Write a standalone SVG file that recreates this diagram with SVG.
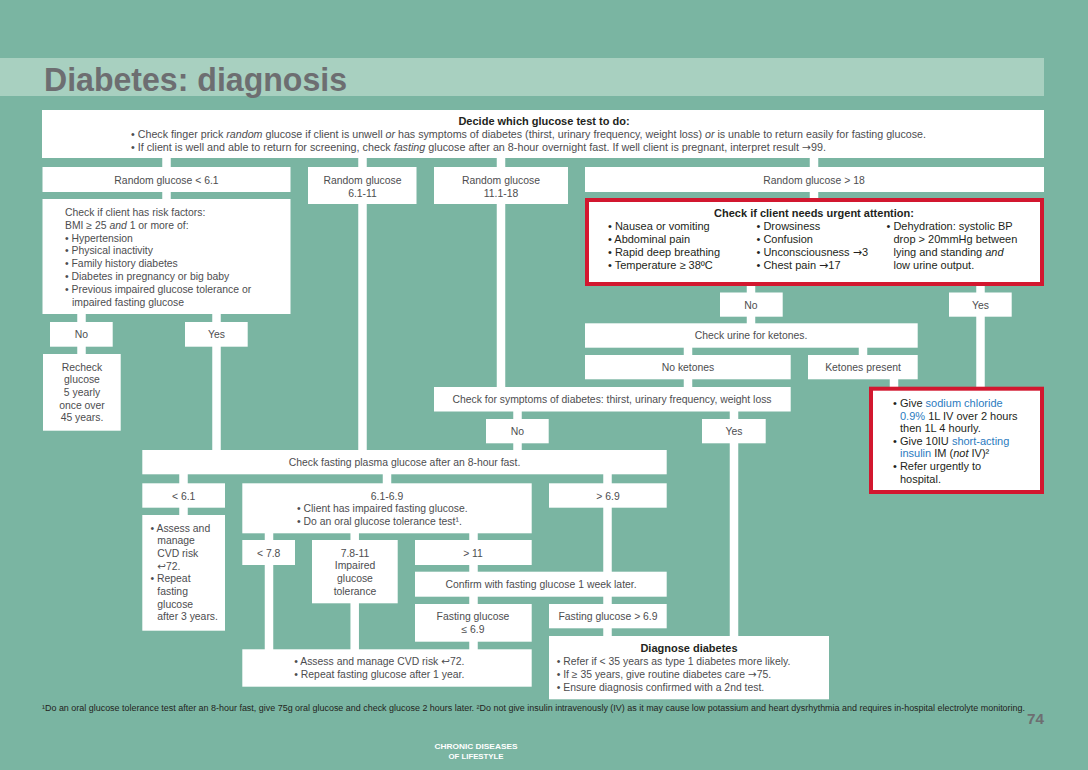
<svg xmlns="http://www.w3.org/2000/svg" width="1088" height="770" viewBox="0 0 1088 770">
<style>
.box{fill:#ffffff}
.red{fill:#ffffff;stroke:#d2172f;stroke-width:4}
.c line{stroke:#ffffff;stroke-width:8.5}
text{font-family:"Liberation Sans",Arial,sans-serif;font-size:10.4px;fill:#4d4d4f}
.m{text-anchor:middle}
.dk{fill:#231f20;font-size:11px}
.b{font-weight:bold;fill:#231f20;font-size:11px}
.blue{fill:#2b7bc0}
.i{font-style:italic}
.ar{font-family:"DejaVu Sans",sans-serif}
</style>
<rect x="0" y="0" width="1088" height="770" fill="#7ab5a2"/>
<rect x="0" y="58" width="1044" height="38" fill="#a8d0c0"/>
<text x="44" y="91" style="font-size:34px;font-weight:bold;fill:#6d6e71" textLength="303" lengthAdjust="spacingAndGlyphs">Diabetes: diagnosis</text>

<g id="connectors" class="c">
<line x1="166.5" y1="158" x2="166.5" y2="200"/>
<line x1="362.5" y1="158" x2="362.5" y2="451"/>
<line x1="501" y1="158" x2="501" y2="388"/>
<line x1="814" y1="158" x2="814" y2="199"/>
<line x1="81.5" y1="314" x2="81.5" y2="355"/>
<line x1="216.5" y1="314" x2="216.5" y2="451"/>
<line x1="751" y1="285" x2="751" y2="324"/>
<line x1="980.5" y1="285" x2="980.5" y2="388"/>
<line x1="688" y1="347" x2="688" y2="388"/>
<line x1="863" y1="347" x2="863" y2="356"/>
<line x1="894" y1="379" x2="894" y2="388"/>
<line x1="517.5" y1="411" x2="517.5" y2="451"/>
<line x1="734" y1="411" x2="734" y2="637"/>
<line x1="183.5" y1="474" x2="183.5" y2="516"/>
<line x1="387" y1="474" x2="387" y2="484"/>
<line x1="607.5" y1="474" x2="607.5" y2="637"/>
<line x1="269" y1="533" x2="269" y2="650"/>
<line x1="354.7" y1="533" x2="354.7" y2="650"/>
<line x1="473.5" y1="533" x2="473.5" y2="650"/>
</g>

<g id="n-top">
<rect class="box" x="42" y="110" width="1002" height="48"/>
<text class="b m" x="544" y="125">Decide which glucose test to do:</text>
<text x="131" y="138" textLength="795" lengthAdjust="spacingAndGlyphs">• Check finger prick <tspan class="i">random</tspan> glucose if client is unwell <tspan class="i">or</tspan> has symptoms of diabetes (thirst, urinary frequency, weight loss) <tspan class="i">or</tspan> is unable to return easily for fasting glucose.</text>
<text x="131" y="151" textLength="695" lengthAdjust="spacingAndGlyphs">• If client is well and able to return for screening, check <tspan class="i">fasting</tspan> glucose after an 8-hour overnight fast. If well client is pregnant, interpret result <tspan class="ar">→</tspan>99.</text>
</g>

<g id="n-rg-low">
<rect class="box" x="42.5" y="167" width="248" height="25"/>
<text class="m" x="166.5" y="183.5">Random glucose &lt; 6.1</text>
</g>
<g id="n-rg-mid">
<rect class="box" x="308" y="167" width="108.5" height="37"/>
<text class="m" x="362.5" y="184">Random glucose</text>
<text class="m" x="362.5" y="196.5">6.1-11</text>
</g>
<g id="n-rg-high">
<rect class="box" x="434" y="167" width="134" height="37"/>
<text class="m" x="501" y="184">Random glucose</text>
<text class="m" x="501" y="196.5">11.1-18</text>
</g>
<g id="n-rg-vhigh">
<rect class="box" x="585" y="167" width="459" height="25"/>
<text class="m" x="814" y="183.5">Random glucose &gt; 18</text>
</g>

<g id="n-risk">
<rect class="box" x="42.5" y="199" width="248" height="115"/>
<text x="65" y="216">Check if client has risk factors:</text>
<text x="65" y="228.8">BMI ≥ 25 <tspan class="i">and</tspan> 1 or more of:</text>
<text x="65" y="241.6">• Hypertension</text>
<text x="65" y="254.4">• Physical inactivity</text>
<text x="65" y="267.2">• Family history diabetes</text>
<text x="65" y="280">• Diabetes in pregnancy or big baby</text>
<text x="65" y="292.8">• Previous impaired glucose tolerance or</text>
<text x="72" y="305.6">impaired fasting glucose</text>
</g>
<g id="n-risk-no">
<rect class="box" x="50" y="322" width="62.7" height="24.7"/>
<text class="m" x="81.5" y="338">No</text>
</g>
<g id="n-risk-yes">
<rect class="box" x="185" y="322" width="62.7" height="24.7"/>
<text class="m" x="216.5" y="338">Yes</text>
</g>
<g id="n-recheck">
<rect class="box" x="43" y="354" width="77.7" height="76.7"/>
<text class="m" x="82" y="370.5">Recheck</text>
<text class="m" x="82" y="383.2">glucose</text>
<text class="m" x="82" y="395.9">5 yearly</text>
<text class="m" x="82" y="408.6">once over</text>
<text class="m" x="82" y="421.3">45 years.</text>
</g>

<g id="n-urgent">
<rect class="red" x="587" y="200" width="455" height="84"/>
<text class="b m" x="814" y="217">Check if client needs urgent attention:</text>
<text class="dk" x="608" y="230">• Nausea or vomiting</text>
<text class="dk" x="608" y="243">• Abdominal pain</text>
<text class="dk" x="608" y="256">• Rapid deep breathing</text>
<text class="dk" x="608" y="269">• Temperature ≥ 38ºC</text>
<text class="dk" x="756.5" y="230">• Drowsiness</text>
<text class="dk" x="756.5" y="243">• Confusion</text>
<text class="dk" x="756.5" y="256">• Unconsciousness <tspan class="ar">→</tspan>3</text>
<text class="dk" x="756.5" y="269">• Chest pain <tspan class="ar">→</tspan>17</text>
<text class="dk" x="886.5" y="230">• Dehydration: systolic BP</text>
<text class="dk" x="893.5" y="243">drop &gt; 20mmHg between</text>
<text class="dk" x="893.5" y="256">lying and standing <tspan class="i">and</tspan></text>
<text class="dk" x="893.5" y="269">low urine output.</text>
</g>
<g id="n-urg-no">
<rect class="box" x="720" y="292.5" width="62.7" height="24.2"/>
<text class="m" x="751" y="308.5">No</text>
</g>
<g id="n-urg-yes">
<rect class="box" x="949" y="292.5" width="62.7" height="24.2"/>
<text class="m" x="980.5" y="308.5">Yes</text>
</g>
<g id="n-urine">
<rect class="box" x="585" y="323.3" width="332.7" height="24.4"/>
<text class="m" x="751" y="339.3">Check urine for ketones.</text>
</g>
<g id="n-noket">
<rect class="box" x="585" y="355" width="205.7" height="24.3"/>
<text class="m" x="688" y="371">No ketones</text>
</g>
<g id="n-ket">
<rect class="box" x="808" y="355" width="109.7" height="24.3"/>
<text class="m" x="863" y="371">Ketones present</text>
</g>
<g id="n-treat">
<rect class="red" x="871" y="388.7" width="171" height="103.3"/>
<text class="dk" x="893" y="407">• Give <tspan class="blue">sodium chloride</tspan></text>
<text class="dk" x="900" y="419.6"><tspan class="blue">0.9%</tspan> 1L IV over 2 hours</text>
<text class="dk" x="900" y="432.2">then 1L 4 hourly.</text>
<text class="dk" x="893" y="444.8">• Give 10IU <tspan class="blue">short-acting</tspan></text>
<text class="dk" x="900" y="457.4"><tspan class="blue">insulin</tspan> IM (<tspan class="i">not</tspan> IV)²</text>
<text class="dk" x="893" y="470">• Refer urgently to</text>
<text class="dk" x="900" y="482.6">hospital.</text>
</g>

<g id="n-symptoms">
<rect class="box" x="434" y="387" width="356.7" height="24.5"/>
<text class="m" x="612" y="403">Check for symptoms of diabetes: thirst, urinary frequency, weight loss</text>
</g>
<g id="n-sym-no">
<rect class="box" x="486" y="419" width="62.7" height="24.3"/>
<text class="m" x="517.5" y="435">No</text>
</g>
<g id="n-sym-yes">
<rect class="box" x="702" y="419" width="63.7" height="24.3"/>
<text class="m" x="734" y="435">Yes</text>
</g>

<g id="n-fasting">
<rect class="box" x="142.3" y="450" width="524.4" height="24.3"/>
<text class="m" x="404.5" y="466">Check fasting plasma glucose after an 8-hour fast.</text>
</g>
<g id="n-f-low">
<rect class="box" x="142.3" y="483.3" width="82.7" height="24.4"/>
<text class="m" x="183.7" y="499.5">&lt; 6.1</text>
</g>
<g id="n-f-mid">
<rect class="box" x="242.3" y="483.3" width="289.4" height="50"/>
<text class="m" x="387" y="499.5">6.1-6.9</text>
<text x="297" y="512.3">• Client has impaired fasting glucose.</text>
<text x="297" y="525">• Do an oral glucose tolerance test¹.</text>
</g>
<g id="n-f-high">
<rect class="box" x="549" y="483.3" width="117.7" height="24.4"/>
<text class="m" x="608" y="499.5">&gt; 6.9</text>
</g>
<g id="n-assess1">
<rect class="box" x="142.3" y="515" width="82.7" height="115.7"/>
<text x="150.5" y="531.5">• Assess and</text>
<text x="157.3" y="544.2">manage</text>
<text x="157.3" y="556.9">CVD risk</text>
<text x="157.3" y="569.6"><tspan class="ar">↩</tspan>72.</text>
<text x="150.5" y="582.3">• Repeat</text>
<text x="157.3" y="595">fasting</text>
<text x="157.3" y="607.7">glucose</text>
<text x="157.3" y="620.4">after 3 years.</text>
</g>
<g id="n-ogtt-low">
<rect class="box" x="242.3" y="540" width="52.7" height="25"/>
<text class="m" x="268.7" y="556.5">&lt; 7.8</text>
</g>
<g id="n-ogtt-mid">
<rect class="box" x="312" y="540" width="85.7" height="63.3"/>
<text class="m" x="355" y="556.5">7.8-11</text>
<text class="m" x="355" y="569.2">Impaired</text>
<text class="m" x="355" y="581.9">glucose</text>
<text class="m" x="355" y="594.6">tolerance</text>
</g>
<g id="n-ogtt-high">
<rect class="box" x="415" y="540" width="116.7" height="25"/>
<text class="m" x="473" y="556.5">&gt; 11</text>
</g>
<g id="n-confirm">
<rect class="box" x="415" y="571.7" width="251.7" height="25"/>
<text class="m" x="541" y="588">Confirm with fasting glucose 1 week later.</text>
</g>
<g id="n-fg-low">
<rect class="box" x="415" y="604" width="116.7" height="37.7"/>
<text class="m" x="473" y="620">Fasting glucose</text>
<text class="m" x="473" y="632.7">≤ 6.9</text>
</g>
<g id="n-fg-high">
<rect class="box" x="549" y="604" width="117.7" height="24.3"/>
<text class="m" x="608" y="620">Fasting glucose &gt; 6.9</text>
</g>
<g id="n-assess2">
<rect class="box" x="242.3" y="649.3" width="289.4" height="37.4"/>
<text x="294.3" y="665">• Assess and manage CVD risk <tspan class="ar">↩</tspan>72.</text>
<text x="294.3" y="677.7">• Repeat fasting glucose after 1 year.</text>
</g>
<g id="n-diagnose">
<rect class="box" x="549" y="636" width="280" height="63.3"/>
<text class="b m" x="689" y="652">Diagnose diabetes</text>
<text x="556.7" y="665">• Refer if &lt; 35 years as type 1 diabetes more likely.</text>
<text x="556.7" y="677.8">• If ≥ 35 years, give routine diabetes care <tspan class="ar">→</tspan>75.</text>
<text x="556.7" y="690.6">• Ensure diagnosis confirmed with a 2nd test.</text>
</g>

<text x="42" y="711" style="font-size:8.5px;fill:#231f20" textLength="983" lengthAdjust="spacingAndGlyphs">¹Do an oral glucose tolerance test after an 8-hour fast, give 75g oral glucose and check glucose 2 hours later.  ²Do not give insulin intravenously (IV) as it may cause low potassium and heart dysrhythmia and requires in-hospital electrolyte monitoring.</text>
<text x="1027" y="724" style="font-size:14px;font-weight:bold;fill:#6d6e71" textLength="17" lengthAdjust="spacingAndGlyphs">74</text>
<text class="m" x="476" y="749" style="font-size:8px;font-weight:bold;fill:#ffffff" textLength="83" lengthAdjust="spacingAndGlyphs">CHRONIC DISEASES</text>
<text class="m" x="476" y="758.5" style="font-size:8px;font-weight:bold;fill:#ffffff" textLength="55" lengthAdjust="spacingAndGlyphs">OF LIFESTYLE</text>
</svg>
